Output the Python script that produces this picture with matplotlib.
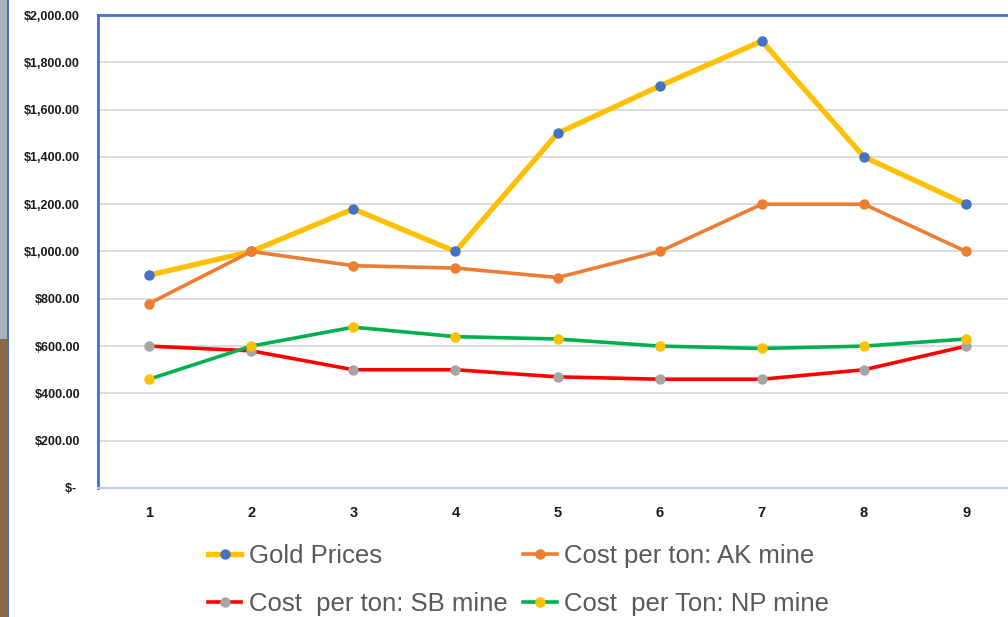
"""Gold prices vs mining cost per ton, Excel-style line chart."""
import matplotlib
matplotlib.use("Agg")
import matplotlib.pyplot as plt
import matplotlib.patches as patches
from matplotlib.ticker import FuncFormatter

plt.rcParams['font.family'] = ['Liberation Sans', 'DejaVu Sans']

periods = [1, 2, 3, 4, 5, 6, 7, 8, 9]
gold_prices = [900, 1000, 1180, 1000, 1500, 1700, 1890, 1400, 1200]
cost_ak = [780, 1000, 940, 930, 890, 1000, 1200, 1200, 1000]
cost_sb = [600, 580, 500, 500, 470, 460, 460, 500, 600]
cost_np = [460, 600, 680, 640, 630, 600, 590, 600, 630]
y_ticks = [0, 200, 400, 600, 800, 1000, 1200, 1400, 1600, 1800, 2000]


def money(v, _pos):
    if v == 0:
        return "$- "
    return f"${v:,.2f}"


fig = plt.figure(figsize=(10.08, 6.17), dpi=100)
ax = fig.add_axes([98 / 1008, 129 / 617, 910 / 1008, 473 / 617])

# photo strip peeking in at the left edge
fig.patches.append(patches.Rectangle((0, 0.45), 0.007, 0.55, transform=fig.transFigure,
                                     facecolor="#a7b3bb", edgecolor="none", zorder=0))
fig.patches.append(patches.Rectangle((0, 0), 0.007, 0.45, transform=fig.transFigure,
                                     facecolor="#8c6a48", edgecolor="none", zorder=0))
fig.patches.append(patches.Rectangle((0.007, 0), 0.002, 1, transform=fig.transFigure,
                                     facecolor="#4472c4", edgecolor="none", zorder=0))

l_gold, = ax.plot(periods, gold_prices, color="#ffc000", lw=3.8, marker="o", ms=6.5,
                  mfc="#4472c4", mec="#4472c4", label="Gold Prices", zorder=3)
l_ak, = ax.plot(periods, cost_ak, color="#ed7d31", lw=2.6, marker="o", ms=6.5,
                mfc="#ed7d31", mec="#ed7d31", label="Cost per ton: AK mine", zorder=4)
l_sb, = ax.plot(periods, cost_sb, color="#ff0000", lw=2.6, marker="o", ms=6.5,
                mfc="#a5a5a5", mec="#a5a5a5", label="Cost  per ton: SB mine", zorder=5)
l_np, = ax.plot(periods, cost_np, color="#00b050", lw=2.6, marker="o", ms=6.5,
                mfc="#ffc000", mec="#ffc000", label="Cost  per Ton: NP mine", zorder=6)

ax.set_xlim(0.5, 9.41)
ax.set_ylim(0, 2000)
ax.set_xticks(periods)
ax.set_yticks(y_ticks)
ax.yaxis.set_major_formatter(FuncFormatter(money))
ax.grid(axis="y", color="#d9d9d9", lw=1.3)
ax.set_axisbelow(True)
ax.tick_params(axis="both", length=0)
ax.tick_params(axis="y", pad=13, labelsize=9)
ax.tick_params(axis="x", pad=13, labelsize=10.5)
for lbl in ax.get_xticklabels() + ax.get_yticklabels():
    lbl.set_fontweight("bold")
    lbl.set_color("#1a1a1a")

ax.spines['right'].set_visible(False)
ax.spines['left'].set_color("#4472c4")
ax.spines['left'].set_linewidth(2)
ax.spines['top'].set_color("#4472c4")
ax.spines['top'].set_linewidth(2)
ax.spines['bottom'].set_color("#c3cde0")
ax.spines['bottom'].set_linewidth(1.5)

# matplotlib fills columns first, so order handles to read row by row
handles = [l_gold, l_sb, l_ak, l_np]
leg = fig.legend(handles, [h.get_label() for h in handles], loc="upper left",
                 bbox_to_anchor=(208 / 1008, 1 - 544 / 617), ncol=2,
                 frameon=False, fontsize=18.5, handlelength=1.3, handletextpad=0.3,
                 columnspacing=0.6, labelspacing=0.95, borderaxespad=0, borderpad=0)
for t in leg.get_texts():
    t.set_color("#595959")

fig.savefig("out.png", dpi=100)
